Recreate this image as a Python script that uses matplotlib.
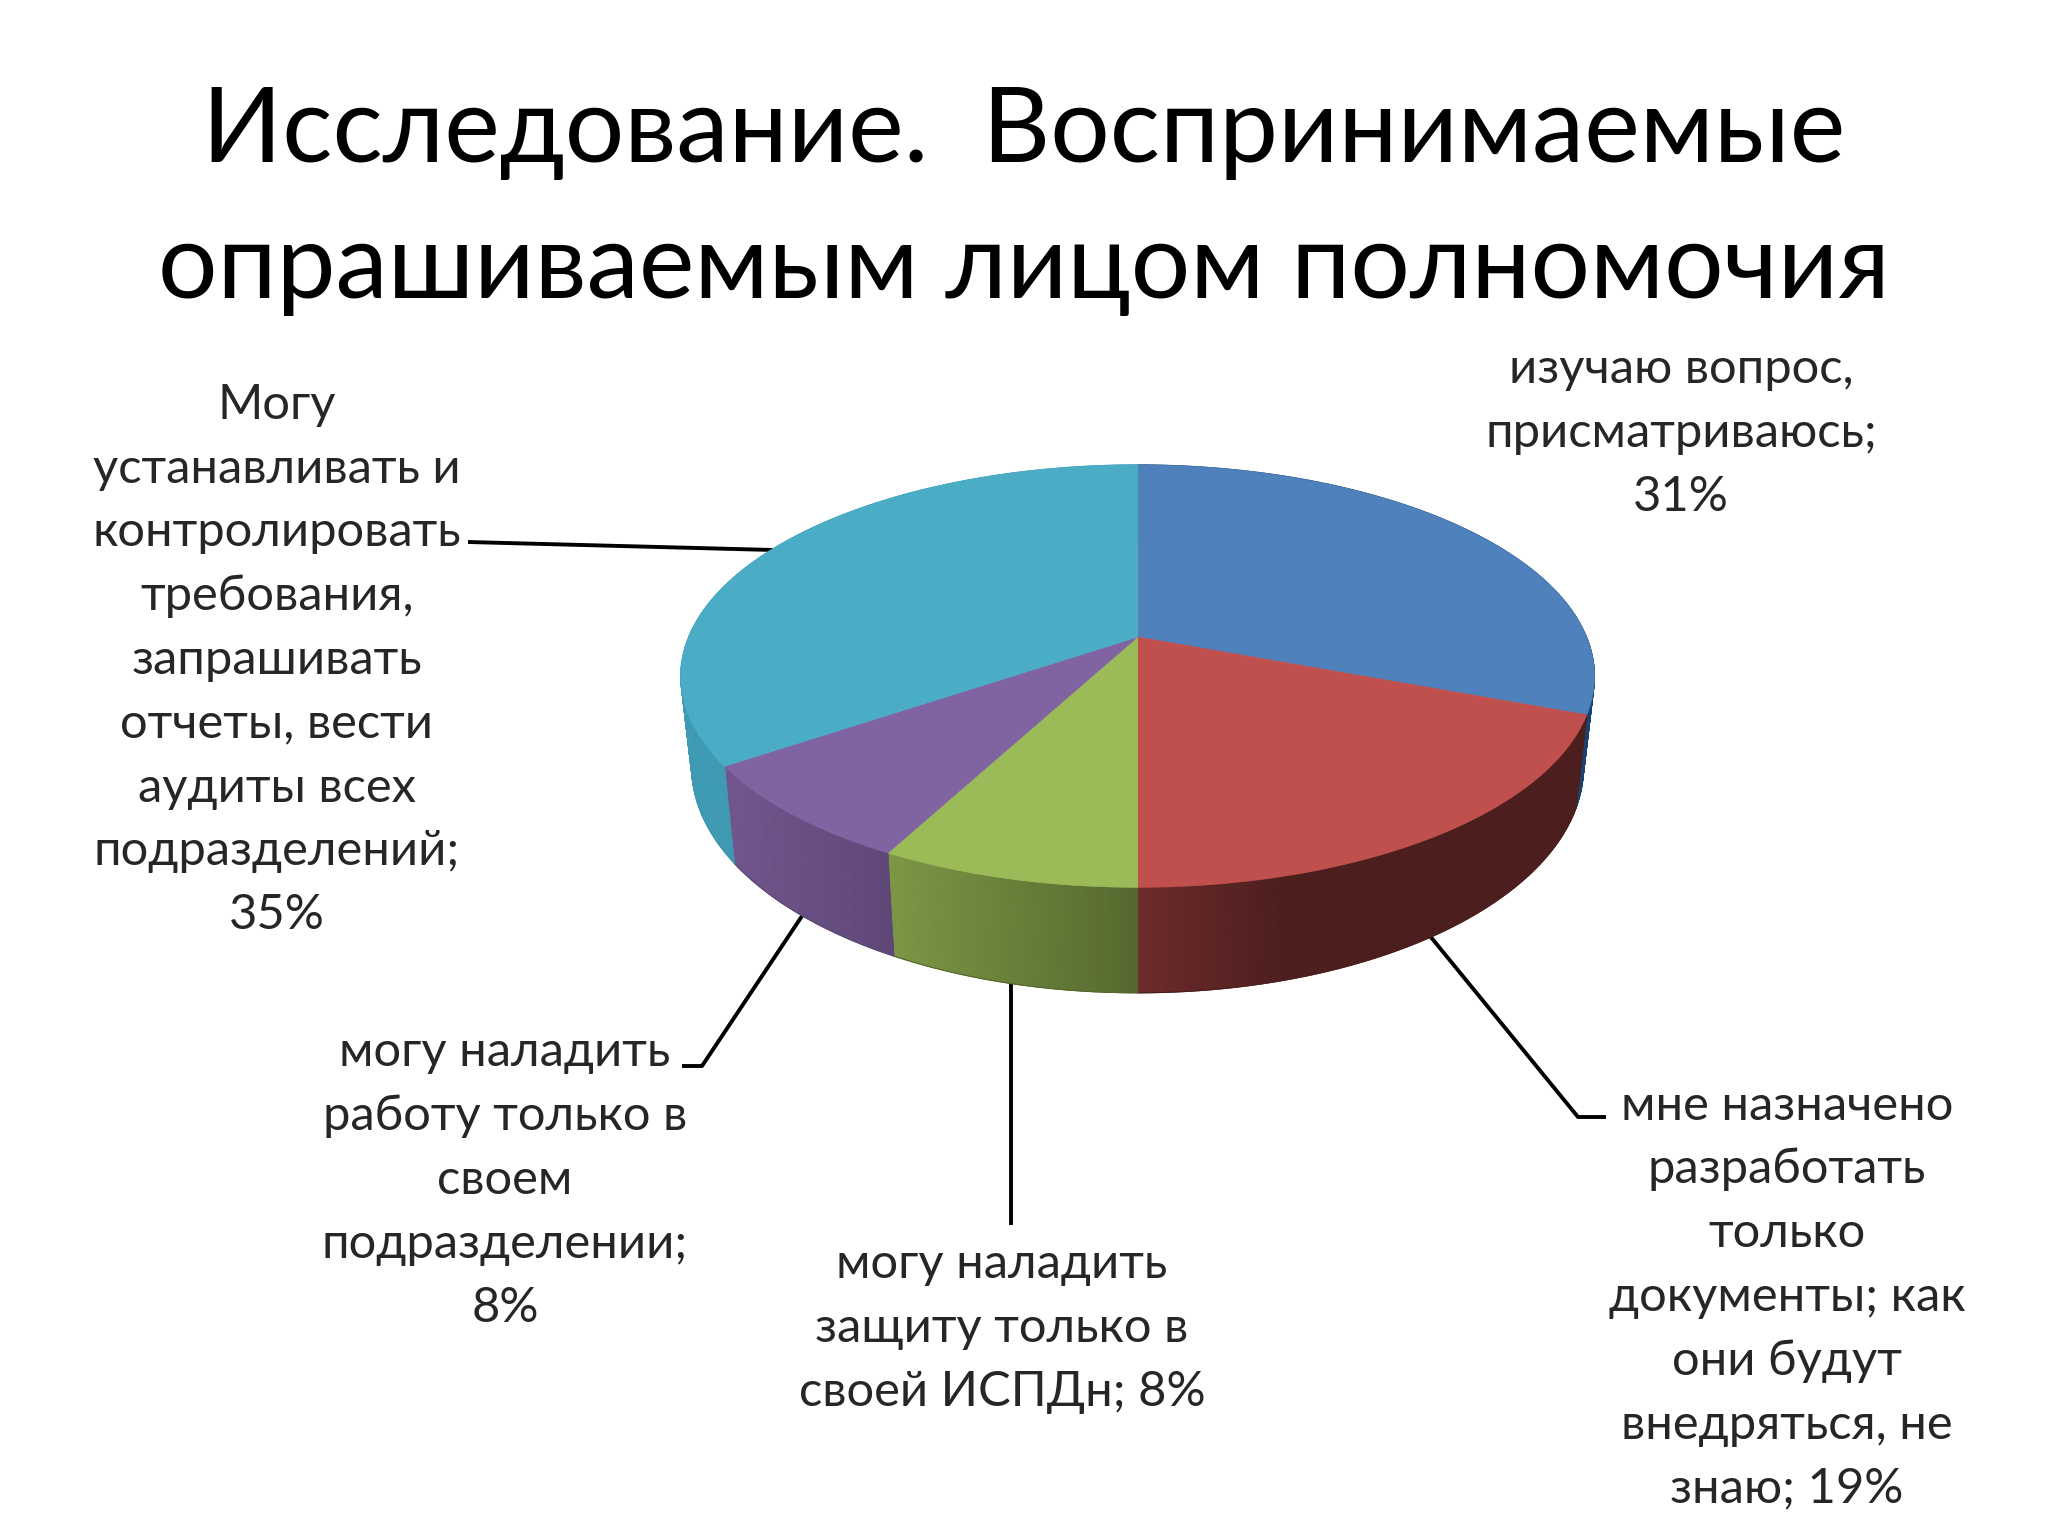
import numpy as np
import matplotlib
matplotlib.use('Agg')
import matplotlib.pyplot as plt
from matplotlib.colors import to_rgb

# Данные диаграммы
shares = [30.8, 19.2, 7.7, 7.7, 34.6]
top_colors = ['#4f81bd', '#c0504d', '#9bbb59', '#8064a2', '#4bacc6']
side_left = ['#17375e', '#6e2b2b', '#7d9746', '#72578f', '#3f9ab3']
side_right = ['#1b426f', '#4d1e1e', '#55692f', '#5f4878', '#3f95ad']
side_gain = [1, 3, 1, 1, 1]
title_lines = ['Исследование.  Воспринимаемые', 'опрашиваемым лицом полномочия']
labels = ['изучаю вопрос,\nприсматриваюсь;\n31%',
          'мне назначено\nразработать\nтолько\nдокументы; как\nони будут\nвнедряться, не\nзнаю; 19%',
          'могу наладить\nзащиту только в\nсвоей ИСПДн; 8%',
          'могу наладить\nработу только в\nсвоем\nподразделении;\n8%',
          'Могу\nустанавливать и\nконтролировать\nтребования,\nзапрашивать\nотчеты, вести\nаудиты всех\nподразделений;\n35%']

plt.rcParams['font.family'] = ['Lato', 'Open Sans', 'DejaVu Sans']

fig = plt.figure(figsize=(20.48, 15.36), dpi=100, facecolor='white')
ax = fig.add_axes([0, 0, 1, 1])

# Перспектива круга
cx, cy = 1137.6, 637.0
a, b, k = 449.0, 204.0, 0.185


def rim(theta, lower=False):
    x = np.sin(theta)
    y = np.cos(theta)
    w = 1 + k * y
    px = a * x / w
    py = -b * y / w
    if lower:
        px = px * 0.976
        py = py * 1.07 + 88
    return cx + px, cy + py


edges = np.cumsum([0] + shares) / sum(shares) * 2 * np.pi

# Боковая стенка: горизонтальный градиент по сетке
for i in range(len(shares)):
    th = np.linspace(edges[i], edges[i + 1], 200)
    xt, yt = rim(th)
    xb, yb = rim(th, lower=True)
    X = np.vstack([xt, xb])
    Y = np.vstack([yt, yb])
    f = np.clip((X - X.min()) / (X.max() - X.min()) * side_gain[i], 0, 1)[:, :, None]
    left = np.array(to_rgb(side_left[i]))
    right = np.array(to_rgb(side_right[i]))
    ax.pcolormesh(X, Y, left + (right - left) * f, shading='gouraud', zorder=2)
    # сглаженный нижний край
    ax.plot(xb, yb, color=side_right[i], lw=0.8, zorder=2)

# Верхняя грань
for i in range(len(shares)):
    th = np.linspace(edges[i], edges[i + 1], 200)
    xt, yt = rim(th)
    ax.fill(np.r_[cx, xt], np.r_[cy, yt], color=top_colors[i], lw=0.5, zorder=4)

# Выноски
line_style = dict(color='black', lw=2.8, zorder=1, solid_capstyle='butt')
ax.plot([468, 773], [542, 550], **line_style)
ax.plot([682, 702, 802], [1066, 1066, 916], **line_style)
ax.plot([1011, 1011], [982, 1225], **line_style)
ax.plot([1430, 1578, 1606], [936, 1117, 1117], **line_style)

# Подписи
text_style = dict(ha='center', va='center', ma='center', fontsize=35.2,
                  color='#262626', linespacing=1.55)
ax.text(1681, 433, labels[0], **text_style)
ax.text(1787, 1297, labels[1], **text_style)
ax.text(1002, 1328, labels[2], **text_style)
ax.text(505, 1180, labels[3], **text_style)
ax.text(277, 660, labels[4], **text_style)

# Заголовок
ax.text(1024, 132, title_lines[0], ha='center', va='center', fontsize=75.7, color='black')
ax.text(1024, 268, title_lines[1], ha='center', va='center', fontsize=75.7, color='black')

ax.set_xlim(0, 2048)
ax.set_ylim(1536, 0)
ax.axis('off')

fig.savefig('out.png', dpi=100)
